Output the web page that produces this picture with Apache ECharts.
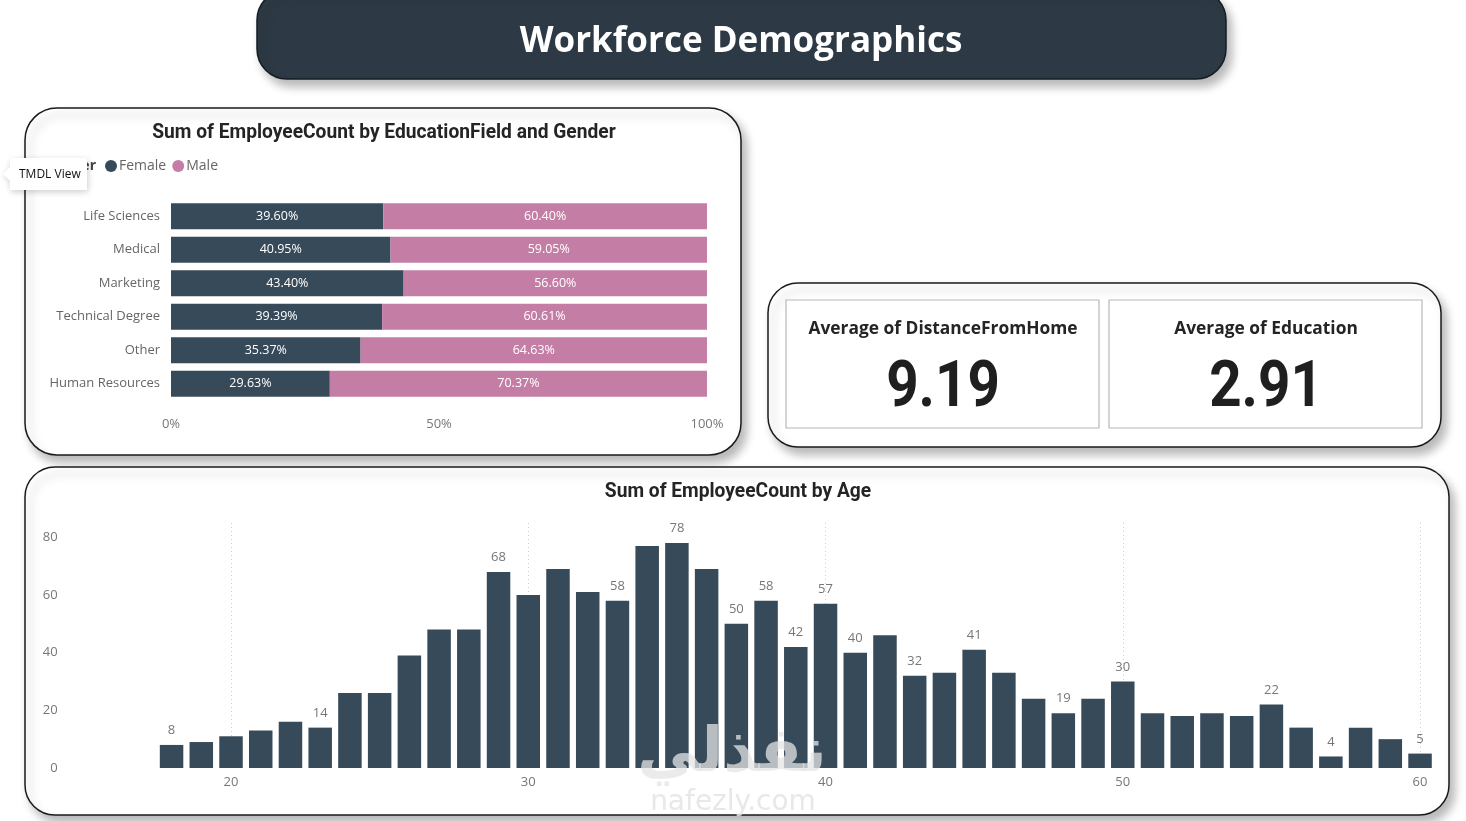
<!DOCTYPE html>
<html>
<head>
<meta charset="utf-8">
<script src="https://cdn.jsdelivr.net/npm/echarts@6/dist/echarts.min.js"></script>
<style>
html,body{margin:0;padding:0;background:#ffffff;}
#chart{width:1466px;height:821px;}
</style>
</head>
<body>
<div id="chart"></div>
<script>
// ---- data ----
const educationFields = ['Life Sciences', 'Medical', 'Marketing', 'Technical Degree', 'Other', 'Human Resources'];
const femalePct = [39.60, 40.95, 43.40, 39.39, 35.37, 29.63];
const malePct = [60.40, 59.05, 56.60, 60.61, 64.63, 70.37];
const genders = ['Female', 'Male'];

const ages = [18,19,20,21,22,23,24,25,26,27,28,29,30,31,32,33,34,35,36,37,38,39,40,41,42,43,44,45,46,47,48,49,50,51,52,53,54,55,56,57,58,59,60];
const ageCounts = [8,9,11,13,16,14,26,26,39,48,48,68,60,69,61,58,77,78,69,50,58,42,57,40,46,32,33,41,33,24,19,24,30,19,18,19,18,22,14,4,14,10,5];
const labeledAges = [18,23,29,33,35,37,38,39,40,41,43,45,48,50,55,57,60];
const ageGridLines = [20,30,40,50,60];

const kpiLabels = ['Average of DistanceFromHome', 'Average of Education'];
const kpiValues = ['9.19', '2.91'];

const pageTitle = 'Workforce Demographics';
const eduTitle = 'Sum of EmployeeCount by EducationField and Gender';
const ageTitle = 'Sum of EmployeeCount by Age';

// ---- styles ----
const DARK = '#374a59';
const PINK = '#c47ea5';
const LABEL = '#666666';
const TITLE = '#252423';
const SANS = '"Open Sans", "Segoe UI", sans-serif';

const chart = echarts.init(document.getElementById('chart'), null, {renderer: 'canvas'});

const cardShadow = {shadowBlur: 10, shadowColor: 'rgba(0,0,0,0.28)', shadowOffsetX: 5, shadowOffsetY: 7};

const graphics = [
  // header
  {type: 'rect', z: 0, shape: {x: 257, y: -10, width: 969, height: 89, r: 30},
   style: Object.assign({fill: '#2d3a45', stroke: '#151c22', lineWidth: 1.5}, cardShadow)},
  {type: 'text', z: 100, x: 741, y: 42, style: {text: pageTitle, fill: '#ffffff', font: 'bold 35px ' + SANS, textAlign: 'center', textVerticalAlign: 'middle'}},
  // left card
  {type: 'rect', z: 0, shape: {x: 25, y: 108, width: 716, height: 347, r: 32},
   style: Object.assign({fill: '#ffffff', stroke: '#1a1a1a', lineWidth: 1.5}, cardShadow)},
  {type: 'text', z: 100, x: 384, y: 133, scaleX: 0.96, style: {text: eduTitle, fill: TITLE, font: 'bold 20px Roboto, sans-serif', textAlign: 'center', textVerticalAlign: 'middle'}},
  {type: 'text', z: 100, x: 96, y: 166, style: {text: 'Gender', fill: '#444', font: 'bold 14px ' + SANS, textAlign: 'right', textVerticalAlign: 'middle'}},
  // KPI container
  {type: 'rect', z: 0, shape: {x: 768, y: 283, width: 673, height: 164, r: 30},
   style: Object.assign({fill: '#ffffff', stroke: '#1a1a1a', lineWidth: 1.5}, cardShadow)},
  {type: 'rect', z: 1, shape: {x: 786, y: 300, width: 313, height: 128},
   style: {fill: '#ffffff', stroke: '#b8b8b8', lineWidth: 1.2}},
  {type: 'rect', z: 1, shape: {x: 1109, y: 300, width: 313, height: 128},
   style: {fill: '#ffffff', stroke: '#b8b8b8', lineWidth: 1.2}},
  // bottom card
  {type: 'rect', z: 0, shape: {x: 25, y: 467, width: 1424, height: 348, r: 30},
   style: Object.assign({fill: '#ffffff', stroke: '#1a1a1a', lineWidth: 1.5}, cardShadow)},
  {type: 'text', z: 100, x: 738, y: 492, scaleX: 0.96, style: {text: ageTitle, fill: TITLE, font: 'bold 20px Roboto, sans-serif', textAlign: 'center', textVerticalAlign: 'middle'}},
];

// KPI texts
const kpiCenters = [943, 1266];
kpiLabels.forEach((lab, i) => {
  graphics.push({type: 'text', z: 100, x: kpiCenters[i], y: 329, scaleX: 0.965, style: {text: lab, fill: TITLE, font: 'bold 18px ' + SANS, textAlign: 'center', textVerticalAlign: 'middle'}});
  graphics.push({type: 'text', z: 100, x: kpiCenters[i], y: 390, scaleX: 0.87, style: {text: kpiValues[i], fill: '#1f1f1f', font: 'bold 65px Roboto, sans-serif', textAlign: 'center', textVerticalAlign: 'middle'}});
});

// TMDL tooltip overlay
graphics.push({type: 'polygon', z: 200, shape: {points: [[10, 158], [87, 158], [87, 190], [10, 190], [10, 181], [3, 174], [10, 167]]},
  style: {fill: '#ffffff', shadowBlur: 6, shadowColor: 'rgba(0,0,0,0.2)', shadowOffsetX: 1, shadowOffsetY: 2}});
graphics.push({type: 'text', z: 201, x: 19, y: 175, style: {text: 'TMDL View', fill: '#111', font: '12px ' + SANS, textVerticalAlign: 'middle'}});

// watermark
graphics.push({type: 'text', z: 150, x: 732, y: 755, style: {text: 'نفذلي', fill: 'rgba(228,228,228,0.75)', font: 'bold 62px "DejaVu Sans", sans-serif', textAlign: 'center', textVerticalAlign: 'middle'}});
graphics.push({type: 'text', z: 150, x: 733, y: 803, style: {text: 'nafezly.com', fill: 'rgba(228,228,228,0.85)', font: '28px "DejaVu Sans", sans-serif', textAlign: 'center', textVerticalAlign: 'middle'}});

const ageData = ages.map((a, i) => ({
  value: [a, ageCounts[i]],
  label: {show: labeledAges.indexOf(a) >= 0}
}));

const option = {
  animation: false,
  backgroundColor: '#ffffff',
  graphic: graphics,
  legend: {
    data: genders,
    left: 100, top: 154,
    icon: 'circle', itemWidth: 12, itemHeight: 12, itemGap: 6,
    textStyle: {color: LABEL, fontSize: 14, fontFamily: SANS, padding: [0, 0, 0, -3]}
  },
  grid: [
    {left: 171, top: 199.5, width: 536, height: 201, containLabel: false},
    {left: 156.7, top: 520, width: 1278.2, height: 248, containLabel: false}
  ],
  xAxis: [
    {type: 'value', gridIndex: 0, min: 0, max: 100, interval: 50,
     axisLine: {show: false}, axisTick: {show: false}, splitLine: {show: false},
     axisLabel: {formatter: '{value}%', color: '#777', fontSize: 13, fontFamily: SANS, margin: 17}},
    {type: 'value', gridIndex: 1, min: 17.5, max: 60.5, interval: 2.5,
     axisLine: {show: false}, axisTick: {show: false}, splitLine: {show: false},
     axisLabel: {color: '#777', fontSize: 13, fontFamily: SANS, margin: 8,
       formatter: v => (Math.abs(v % 10) < 1e-6 ? String(v) : '')}}
  ],
  yAxis: [
    {type: 'category', gridIndex: 0, data: educationFields, inverse: true,
     axisLine: {show: false}, axisTick: {show: false},
     axisLabel: {color: LABEL, fontSize: 13, fontFamily: SANS, margin: 11}},
    {type: 'value', gridIndex: 1, min: 0, max: 86, interval: 20,
     axisLine: {show: false}, axisTick: {show: false}, splitLine: {show: false},
     axisLabel: {color: '#777', fontSize: 13, fontFamily: SANS, margin: 99, showMaxLabel: false,
       formatter: v => (v % 20 === 0 ? String(v) : '')}}
  ],
  series: [
    {name: 'Female', type: 'bar', stack: 'g', xAxisIndex: 0, yAxisIndex: 0, data: femalePct,
     barCategoryGap: '22%', itemStyle: {color: DARK},
     label: {show: true, position: 'inside', color: '#ffffff', fontSize: 12.5, fontFamily: SANS, formatter: p => p.value.toFixed(2) + '%'}},
    {name: 'Male', type: 'bar', stack: 'g', xAxisIndex: 0, yAxisIndex: 0, data: malePct,
     barCategoryGap: '22%', itemStyle: {color: PINK},
     label: {show: true, position: 'inside', color: '#ffffff', fontSize: 12.5, fontFamily: SANS, formatter: p => p.value.toFixed(2) + '%'}},
    {name: 'AgeGrid', type: 'line', xAxisIndex: 1, yAxisIndex: 1, data: [], z: 1, symbol: 'none',
     markLine: {silent: true, symbol: 'none', label: {show: false}, z: 1,
       lineStyle: {color: '#d0d0d0', type: [1, 3], width: 1},
       data: ageGridLines.map(a => [{coord: [a, 0]}, {coord: [a, 86]}])}},
    {name: 'Age', type: 'bar', xAxisIndex: 1, yAxisIndex: 1, data: ageData, barWidth: 23.5,
     itemStyle: {color: DARK}, z: 3,
     label: {position: 'top', distance: 8, color: '#777', fontSize: 13, fontFamily: SANS, formatter: p => String(p.value[1])}}
  ]
};
chart.setOption(option);
</script>
</body>
</html>
